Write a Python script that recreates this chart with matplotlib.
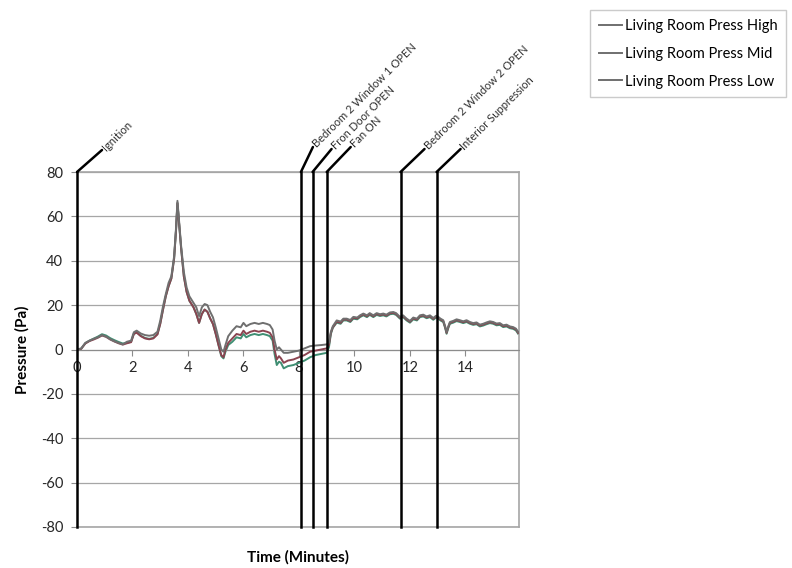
import matplotlib
matplotlib.use('Agg')
import matplotlib.pyplot as plt

plt.rcParams['font.family'] = ['Lato', 'DejaVu Sans']
plt.rcParams['axes.unicode_minus'] = False

# Data (time in minutes, pressure in Pa)
time_min = [0.0, 0.15, 0.3, 0.45, 0.6, 0.75, 0.9, 1.05, 1.2, 1.35, 1.5, 1.65, 1.8, 1.95,
            2.05, 2.15, 2.3, 2.45, 2.6, 2.75, 2.9, 3.0, 3.1, 3.2, 3.3, 3.4, 3.5, 3.57,
            3.62, 3.68, 3.75, 3.85, 3.95, 4.05, 4.2, 4.3, 4.4, 4.5, 4.6, 4.7, 4.8, 4.9,
            5.0, 5.1, 5.2, 5.28, 5.35, 5.45, 5.6, 5.75, 5.9, 6.0, 6.1, 6.25, 6.4, 6.55,
            6.7, 6.85, 6.95, 7.05, 7.12, 7.2, 7.28, 7.35, 7.45, 7.6, 7.8, 8.0, 8.2, 8.4,
            8.6, 8.8, 9.0, 9.08, 9.15, 9.22, 9.36, 9.5, 9.6, 9.72, 9.85, 9.96, 10.1, 10.2,
            10.32, 10.45, 10.55, 10.68, 10.8, 10.92, 11.04, 11.15, 11.28, 11.4, 11.5, 11.64,
            11.75, 11.88, 12.0, 12.12, 12.25, 12.36, 12.48, 12.6, 12.72, 12.84, 12.94, 13.02,
            13.1, 13.2, 13.27, 13.32, 13.38, 13.44, 13.56, 13.68, 13.8, 13.92, 14.04, 14.16,
            14.28, 14.4, 14.52, 14.64, 14.76, 14.88, 15.0, 15.12, 15.24, 15.36, 15.48, 15.6,
            15.72, 15.82, 15.9]

press_high = [0, 0.5, 3, 4, 4.8, 5.5, 6.5, 5.8, 4.6, 3.7, 3, 2.3, 3.5, 4,
              7.8, 8.5, 7.2, 6.5, 6.2, 6.5, 8, 13, 19.5, 25, 30, 33, 42, 55,
              67, 58, 47, 35, 28, 24, 21, 19, 15, 19, 20.5, 20, 17, 14.5,
              10, 5, 0, -1, 2, 6, 8.5, 10.5, 10, 12, 10.5, 11.5, 12, 11.5,
              12, 11.5, 11, 9, 4, 0, 1, 0, -1.5, -1.5, -1, -0.5, 0.5, 1.5,
              1.8, 2, 2.3, 3, 8, 10.5, 13.1, 12.6, 13.9, 13.9, 13.3, 14.7, 14.4, 15.4,
              16.2, 15.4, 16.4, 15.4, 16.4, 15.9, 16.2, 15.7, 16.7, 16.9, 16.4, 14.7,
              15.4, 13.9, 12.9, 14.4, 13.9, 15.4, 15.7, 14.9, 15.4, 14.2, 15.2, 14.7,
              13.9, 13.2, 10.4, 7.9, 10.4, 12.4, 12.9, 13.6, 13.2, 12.7, 13.2, 12.4,
              11.9, 12.2, 11.2, 11.6, 12.2, 12.7, 12.4, 11.7, 11.9, 10.9, 11.2, 10.4,
              10.1, 9.4, 7.9]

press_mid = [0, 0.3, 2.7, 3.8, 4.5, 5.3, 6.3, 5.7, 4.5, 3.6, 2.8, 2.2, 2.8, 3.3,
             7, 7.6, 6, 5, 4.6, 5, 6.8, 11.5, 18, 24, 28.5, 32, 41, 54,
             66, 57, 46, 33, 26, 22, 19, 16, 12, 16, 18, 17, 14, 11.5,
             7, 2, -2.5, -3.5, 0, 3, 5, 7, 6.5, 8.5, 7, 8, 8.5, 8,
             8.5, 8, 7.5, 5.5, 0, -4.5, -3, -4, -6, -5, -4.5, -3.5, -2.5, -1,
             -0.5, 0, 0.5, 2, 7.5, 10, 12.5, 12, 13.5, 13.5, 12.8, 14.3, 14, 15,
             15.8, 15, 16, 15, 16, 15.5, 15.8, 15.3, 16.3, 16.5, 16, 14.3,
             15, 13.5, 12.5, 14, 13.5, 15, 15.3, 14.5, 15, 13.8, 14.8, 14.3,
             13.5, 12.8, 10, 7.5, 10, 12, 12.5, 13.2, 12.8, 12.3, 12.8, 12,
             11.5, 11.8, 10.8, 11.2, 11.8, 12.3, 12, 11.3, 11.5, 10.5, 10.8, 10,
             9.7, 9, 7.5]

press_low = [0, 0.3, 2.8, 4, 4.9, 5.8, 6.9, 6.3, 5.1, 4.2, 3.4, 2.7, 3, 3.5,
             7.2, 7.8, 6.2, 5.2, 4.8, 5.2, 7, 11.7, 18, 24, 28.5, 32, 41, 54,
             66, 57, 46, 33, 26, 22, 19, 16, 12, 16, 18, 17, 14, 11.5,
             7, 2, -3, -4, -1, 2, 3.5, 5.5, 5, 7, 5.5, 6.5, 7, 6.5,
             7, 6.5, 6, 4, -2, -7, -5.5, -6, -8.5, -7.5, -7, -6, -5, -3.5,
             -2.5, -2, -1.5, 1, 7, 9.8, 12.1, 11.6, 13.1, 13.1, 12.4, 13.9, 13.6, 14.6,
             15.4, 14.6, 15.6, 14.6, 15.6, 15.1, 15.4, 14.9, 15.9, 16.1, 15.6, 13.9,
             14.6, 13.1, 12.1, 13.6, 13.1, 14.6, 14.9, 14.1, 14.6, 13.4, 14.4, 13.9,
             13.1, 12.4, 9.6, 7.1, 9.6, 11.6, 12.1, 12.8, 12.4, 11.9, 12.4, 11.6,
             11.1, 11.4, 10.4, 10.8, 11.4, 11.9, 11.6, 10.9, 11.1, 10.1, 10.4, 9.6,
             9.3, 8.6, 7.1]

series_names = ['Living Room Press High', 'Living Room Press Mid', 'Living Room Press Low']
series_colors = ['#6f6f6f', '#8a4450', '#3f8f73']
series_order = [4, 3, 2]

# Events (minutes) and the labels on their leader lines
event_times = [0.0, 8.07, 8.49, 9.0, 11.66, 12.96]
event_labels = ['Ignition', 'Bedroom 2 Window 1 OPEN', 'Fron Door OPEN', 'Fan ON',
                'Bedroom 2 Window 2 OPEN', 'Interior Suppression']
leader_px = [(25, 22), (12, 25), (19, 23), (24, 25), (24, 23), (24, 23)]

fig = plt.figure(figsize=(7.92, 5.68), dpi=100)
ax = fig.add_axes([77/792, 41/568, 442/792, 355/568])

for vals, name, col, z in zip([press_high, press_mid, press_low], series_names, series_colors, series_order):
    ax.plot(time_min, vals, color=col, lw=1.4, label=name, zorder=z)

ax.set_xlim(0, 15.93)
ax.set_ylim(-80, 80)
ax.set_yticks(range(-80, 81, 20))
ax.set_xticks(range(0, 15, 2))
ax.grid(axis='y', color='#a6a6a6', lw=0.9)

# x axis crosses at zero like the original
for s in ['top', 'right', 'left']:
    ax.spines[s].set_visible(False)
ax.spines['bottom'].set_position(('data', 0))
ax.spines['bottom'].set_color('#8c8c8c')
ax.axhline(-80, color='#a6a6a6', lw=1.2, clip_on=False)
ax.axhline(80, color='#a6a6a6', lw=1.2, clip_on=False)
ax.axvline(15.93, color='#a6a6a6', lw=1.2, clip_on=False)

ax.tick_params(axis='y', direction='out', length=4, color='#8c8c8c', pad=6, labelsize=10.5, labelcolor='#262626')
ax.tick_params(axis='x', direction='out', length=4, color='#8c8c8c', pad=4, labelsize=10.5, labelcolor='#262626')

for t, lab, (dx, dy) in zip(event_times, event_labels, leader_px):
    ax.axvline(t, color='black', lw=1.8, clip_on=False, zorder=5)
    ax.annotate('', xy=(t, 80), xytext=(dx, dy), textcoords='offset pixels',
                arrowprops=dict(arrowstyle='-', color='black', lw=1.8, shrinkA=0, shrinkB=0),
                annotation_clip=False)
    ax.annotate(lab, xy=(t, 80), xytext=(dx + 2, dy + 1), textcoords='offset pixels',
                rotation=45, rotation_mode='anchor', ha='left', va='center',
                fontsize=8, color='#303030', annotation_clip=False)

ax.set_ylabel('Pressure (Pa)', fontsize=11, fontweight='bold', labelpad=8)
ax.set_xlabel('Time (Minutes)', fontsize=11, fontweight='bold')
ax.xaxis.set_label_coords(0.5, -0.065)

leg = fig.legend(loc='upper right', bbox_to_anchor=(1.002, 0.995), fontsize=10.5,
                 handlelength=1.6, handletextpad=0.2, labelspacing=0.95,
                 frameon=True, fancybox=False, borderpad=0.6)
leg.get_frame().set_edgecolor('#bfbfbf')
for h in leg.get_lines():
    h.set_color('#6f6f6f')

plt.savefig('out.png', dpi=100)
